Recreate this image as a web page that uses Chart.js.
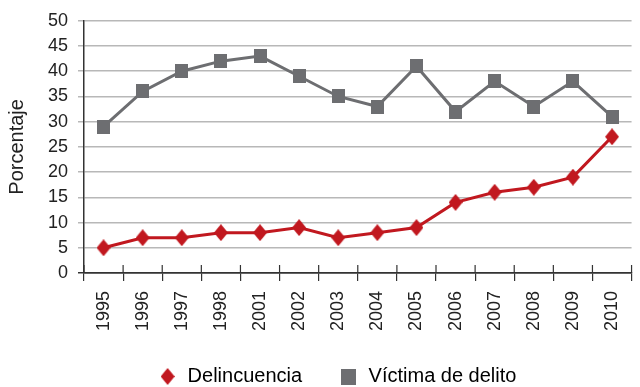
<!DOCTYPE html>
<html lang="es">
<head>
    <meta charset="UTF-8">
    <title>Delincuencia y víctimas de delito</title>
    <script src="https://cdn.jsdelivr.net/npm/chart.js"></script>
    <style>
        html, body {
            margin: 0;
            padding: 0;
            background: #fff;
            overflow: hidden;
        }
        .chart-box {
            width: 644px;
            height: 387px;
        }
    </style>
</head>
<body>

    <div class="chart-box"><canvas id="crimeChart"></canvas></div>

    <script>
        const years = ['1995', '1996', '1997', '1998', '2001', '2002', '2003', '2004', '2005', '2006', '2007', '2008', '2009', '2010'];
        const delincuencia = [5, 7, 7, 8, 8, 9, 7, 8, 9, 14, 16, 17, 19, 27];
        const victimas = [29, 36, 40, 42, 43, 39, 35, 33, 41, 32, 38, 33, 38, 31];

        const RED = '#c1181f';
        const GRAY = '#6d6e71';
        const TEXT = '#222';
        const AXIS = '#333';
        const GRID = '#b8b8b8';
        const FONT = "'Liberation Sans', Arial, sans-serif";

        // small canvases used as point markers (diamond is a bit taller than wide)
        function marker(shape, w, h, color) {
            const c = document.createElement('canvas');
            c.width = w;
            c.height = h;
            const g = c.getContext('2d');
            g.fillStyle = color;
            g.beginPath();
            if (shape === 'diamond') {
                g.moveTo(w / 2, 0);
                g.lineTo(w, h / 2);
                g.lineTo(w / 2, h);
                g.lineTo(0, h / 2);
                g.closePath();
            } else {
                g.rect(0, 0, w, h);
            }
            g.fill();
            return c;
        }

        const diamond = marker('diamond', 14, 17, RED);
        const square = marker('square', 13, 14, GRAY);
        const legendMarks = [marker('diamond', 14, 17, RED), marker('square', 15, 16, GRAY)];

        // tick marks crossing the x axis, plus legend nudge
        const axisMarks = {
            id: 'axisMarks',
            afterLayout(chart) {
                const lg = chart.legend;
                lg.left += 15;
                lg.right += 15;
                lg.top += 9.5;
                lg.bottom += 9.5;
                // rotated year labels run past the axis box; don't clip them
                chart.scales.x.bottom = chart.height;
            },
            beforeDatasetsDraw(chart) {
                const x = chart.scales.x;
                const ctx = chart.ctx;
                ctx.save();
                ctx.strokeStyle = AXIS;
                ctx.lineWidth = 1.2;
                ctx.beginPath();
                for (let i = 0; i <= years.length; i++) {
                    const px = x.getPixelForValue(i - 0.5);
                    ctx.moveTo(px, x.top - 8);
                    ctx.lineTo(px, x.top);
                }
                ctx.stroke();
                ctx.restore();
            }
        };

        const ctx = document.getElementById('crimeChart').getContext('2d');
        new Chart(ctx, {
            type: 'line',
            data: {
                labels: years,
                datasets: [
                    {
                        label: 'Delincuencia',
                        data: delincuencia,
                        borderColor: RED,
                        backgroundColor: RED,
                        borderWidth: 3,
                        tension: 0,
                        pointStyle: diamond,
                        pointRadius: 8
                    },
                    {
                        label: 'Víctima de delito',
                        data: victimas,
                        borderColor: GRAY,
                        backgroundColor: GRAY,
                        borderWidth: 3,
                        tension: 0,
                        pointStyle: square,
                        pointRadius: 8
                    }
                ]
            },
            options: {
                responsive: true,
                maintainAspectRatio: false,
                animation: false,
                layout: { padding: { top: 20, right: 0, bottom: 0, left: 0 } },
                plugins: {
                    tooltip: { enabled: false },
                    legend: {
                        position: 'bottom',
                        labels: {
                            usePointStyle: true,
                            color: TEXT,
                            font: { family: FONT, size: 20 },
                            padding: 36.5,
                            generateLabels(chart) {
                                return chart.data.datasets.map((ds, i) => ({
                                    text: ds.label,
                                    pointStyle: legendMarks[i],
                                    fillStyle: ds.borderColor,
                                    strokeStyle: 'transparent',
                                    lineWidth: 0,
                                    hidden: false,
                                    datasetIndex: i
                                }));
                            }
                        }
                    }
                },
                scales: {
                    x: {
                        offset: true,
                        grid: { offset: true, drawOnChartArea: false, color: AXIS, lineWidth: 1.2, tickLength: 8 },
                        border: { color: AXIS, width: 1.5 },
                        ticks: {
                            color: TEXT,
                            font: { family: FONT, size: 18 },
                            minRotation: 90,
                            maxRotation: 90,
                            padding: 10,
                            autoSkip: false
                        },
                        afterFit(s) { s.height = 47.5; }
                    },
                    y: {
                        min: 0,
                        max: 50,
                        ticks: { stepSize: 5, color: TEXT, font: { family: FONT, size: 18 }, padding: 10 },
                        grid: {
                            color: c => c.tick && c.tick.value === 0 ? AXIS : GRID,
                            lineWidth: 1.5,
                            tickLength: 6
                        },
                        border: { color: AXIS, width: 1.5 },
                        title: {
                            display: true,
                            text: 'Porcentaje',
                            color: TEXT,
                            font: { family: FONT, size: 20 },
                            padding: { top: 5.5, bottom: 0 }
                        },
                        afterFit(s) { s.width = 84; }
                    }
                }
            },
            plugins: [axisMarks]
        });
    </script>

</body>
</html>
